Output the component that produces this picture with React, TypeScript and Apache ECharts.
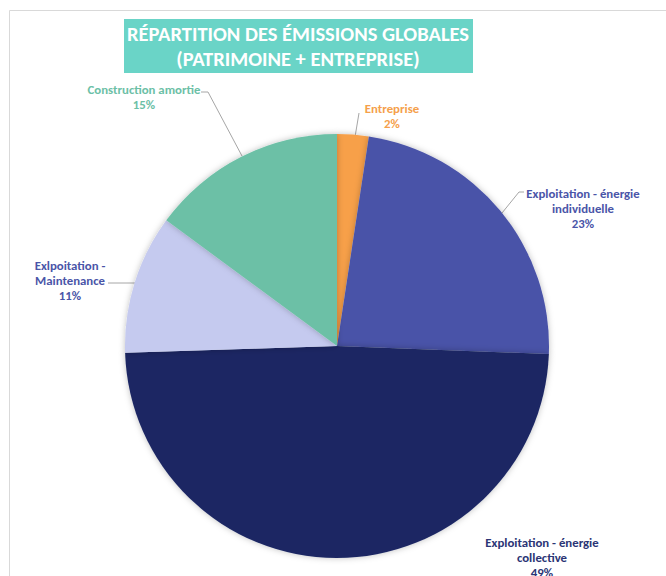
import React, { useEffect, useRef } from "react";
import * as echarts from "echarts";

const categories = [
  "Entreprise",
  "Exploitation - énergie\nindividuelle",
  "Exploitation - énergie\ncollective",
  "Exlpoitation -\nMaintenance",
  "Construction amortie",
];
const values = [2.4, 23.2, 48.9, 10.6, 14.9];
const sliceColors = ["#f7a04a", "#4a53a8", "#1c2864", "#c5caef", "#6cc0a6"];
const labelColors = ["#f5a04b", "#4a55a8", "#2b3575", "#4a55a8", "#6cc0a6"];
const titleText = "RÉPARTITION DES ÉMISSIONS GLOBALES\n(PATRIMOINE + ENTREPRISE)";

const labelPos: { x: number; y: number; line: number[][] | null }[] = [
  { x: 392, y: 116, line: [[355, 137], [359, 113]] },
  { x: 583, y: 208, line: [[502, 213], [519, 192], [524, 192]] },
  { x: 542, y: 557, line: null },
  { x: 70, y: 280, line: [[137, 283], [108, 283]] },
  { x: 144, y: 97, line: [[242, 156], [208, 92], [201, 92]] },
];

export default function App() {
  const ref = useRef<HTMLDivElement>(null);
  useEffect(() => {
    if (!ref.current) return;
    const chart = echarts.init(ref.current, undefined, { renderer: "svg" });
    const font = "Carlito, Lato, 'Open Sans', sans-serif";
    chart.setOption({
      animation: false,
      backgroundColor: "#ffffff",
      title: {
        text: titleText,
        left: 298,
        top: 21,
        padding: 0,
        textAlign: "center",
        textStyle: {
          color: "#ffffff",
          fontFamily: font,
          fontWeight: "bold",
          fontSize: 20.5,
          lineHeight: 25,
        },
      },
      graphic: [
        {
          type: "rect",
          z: -1,
          shape: { x: 9.5, y: 10.5, width: 700, height: 600 },
          style: { fill: "none", stroke: "#d9d9d9", lineWidth: 1 },
        },
        {
          type: "rect",
          z: 0,
          shape: { x: 124, y: 19, width: 349, height: 54 },
          style: { fill: "#6ad4c7" },
        },
      ],
      series: [
        {
          type: "pie",
          center: [337, 346],
          radius: 212,
          startAngle: 90,
          clockwise: true,
          avoidLabelOverlap: false,
          itemStyle: {
            borderWidth: 0,
            shadowBlur: 6,
            shadowColor: "rgba(0,0,0,0.25)",
          },
          data: categories.map((c, i) => ({
            name: c,
            value: values[i],
            itemStyle: { color: sliceColors[i] },
            label: { color: labelColors[i] },
            labelLine: { show: labelPos[i].line !== null },
          })),
          label: {
            show: true,
            position: "outside",
            fontFamily: font,
            fontWeight: "bold",
            fontSize: 12.8,
            lineHeight: 15,
            align: "center",
            formatter: (p: any) => `${p.name}\n${Math.round(p.percent)}%`,
          },
          labelLine: {
            show: true,
            lineStyle: { color: "#a6a6a6", width: 1 },
          },
          labelLayout: (p: any) => {
            const lp = labelPos[p.dataIndex];
            const r: any = {
              x: lp.x,
              y: lp.y,
              align: "center",
              verticalAlign: "middle",
            };
            if (lp.line) r.labelLinePoints = lp.line;
            return r;
          },
        },
      ],
    });
    return () => chart.dispose();
  }, []);
  return (
    <div
      ref={ref}
      style={{ position: "fixed", left: 0, top: 0, width: 666, height: 576 }}
    />
  );
}
